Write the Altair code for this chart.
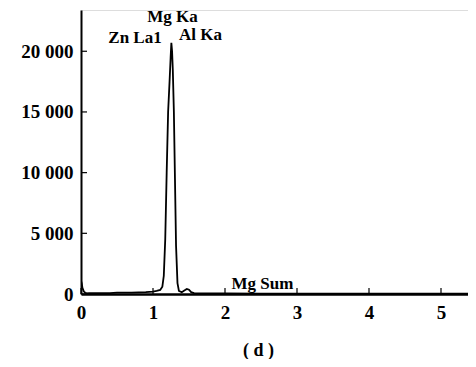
import altair as alt
import pandas as pd

# spectrum (keV, counts)
energy = [0.0, 0.01, 0.02, 0.04, 0.06, 0.1, 0.2, 0.3, 0.4, 0.5, 0.6, 0.7, 0.8, 0.9, 1.0,
          1.05, 1.1, 1.13, 1.15, 1.17, 1.19, 1.21, 1.23, 1.245, 1.255, 1.265, 1.275,
          1.29, 1.305, 1.32, 1.34, 1.36, 1.4, 1.44, 1.47, 1.5, 1.53, 1.57, 1.6, 1.8,
          2.0, 2.5, 3.0, 3.5, 4.0, 4.5, 5.0, 5.5]
counts = [1100, 900, 500, 200, 100, 60, 60, 70, 80, 120, 110, 120, 130, 150, 200,
          260, 330, 600, 1500, 4500, 10000, 15000, 17500, 19500, 20700, 20000, 18500,
          15000, 9500, 4000, 900, 250, 150, 300, 420, 350, 150, 70, 50, 45,
          40, 35, 30, 30, 25, 30, 35, 25]

labels = ["Mg Ka", "Zn La1", "Al Ka", "Mg Sum"]
label_x = [1.27, 0.75, 1.66, 2.52]
label_y = [22850, 21100, 21300, 850]

y_ticks = [0, 5000, 10000, 15000, 20000]
x_ticks = [0, 1, 2, 3, 4, 5]

spec = pd.DataFrame({"E": energy, "C": counts})
ann = pd.DataFrame({"t": labels, "E": label_x, "C": label_y})
yt = pd.DataFrame({"C": y_ticks})
xt = pd.DataFrame({"E": x_ticks})

FONT = "Liberation Serif"
xs = alt.Scale(domain=[0, 5.375], nice=False)
ys = alt.Scale(domain=[0, 23400], nice=False)

line = alt.Chart(spec).mark_line(color="black", strokeWidth=1.8, clip=True).encode(
    x=alt.X("E:Q", scale=xs, axis=alt.Axis(
        values=x_ticks, format="d", title="( d )", tickSize=0, labelPadding=9,
        labelFlush=False,
        labelFont=FONT, labelFontWeight="bold", labelFontSize=19, labelColor="black",
        domainColor="black", domainWidth=2.5, grid=False,
        titleFont=FONT, titleFontWeight="bold", titleFontSize=18, titleColor="black",
        titleX=177, titleY=56, titleBaseline="middle", titleAlign="center")),
    y=alt.Y("C:Q", scale=ys, axis=alt.Axis(
        values=y_ticks, tickSize=0, labelPadding=8, labelFlush=False,
        labelExpr="replace(format(datum.value, ','), ',', ' ')",
        labelFont=FONT, labelFontWeight="bold", labelFontSize=19, labelColor="black",
        domainColor="black", domainWidth=2, grid=False, title=None)),
)

text = alt.Chart(ann).mark_text(font=FONT, fontWeight="bold", fontSize=17,
                                color="black", align="center", baseline="middle").encode(
    x=alt.X("E:Q", scale=xs), y=alt.Y("C:Q", scale=ys), text="t:N")

ytick = alt.Chart(yt).mark_rule(color="black", strokeWidth=1.2).encode(
    y=alt.Y("C:Q", scale=ys), x=alt.value(0), x2=alt.value(6))

xtick = alt.Chart(xt).mark_rule(color="black", strokeWidth=1.2).encode(
    x=alt.X("E:Q", scale=xs), y=alt.value(284), y2=alt.value(278))

chart = alt.layer(line, ytick, xtick, text).properties(
    width=387, height=284,
    autosize=alt.AutoSizeParams(type="none"),
    padding={"left": 73, "top": 2, "right": 0, "bottom": 65},
).configure_view(stroke=None).configure(background="white")

chart.save("out.html", embed_options={"renderer": "svg", "actions": False})
